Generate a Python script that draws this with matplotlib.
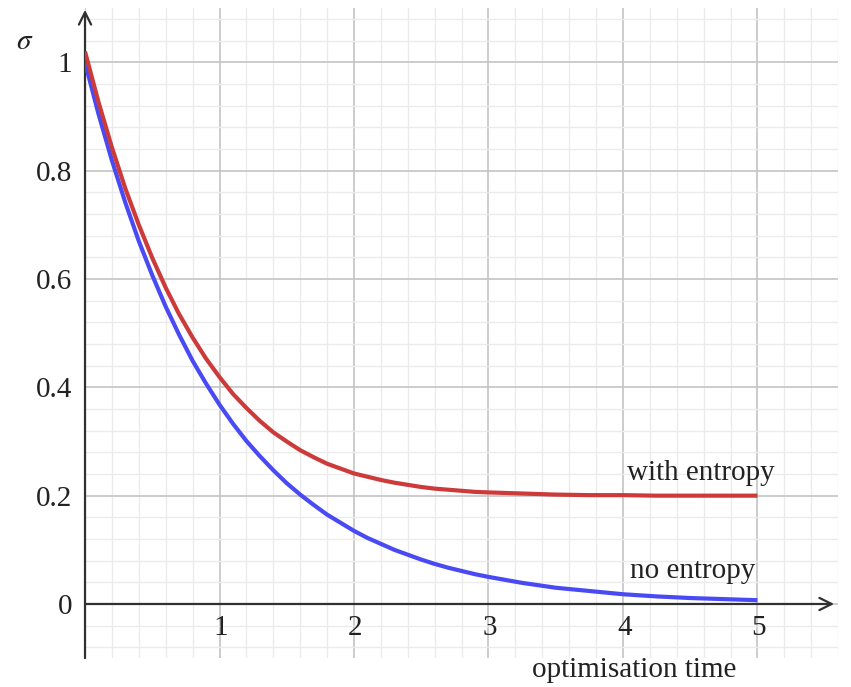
"""
sigma vs optimisation time, with / without entropy term
"""
import matplotlib
matplotlib.use("Agg")
import matplotlib.pyplot as plt
from matplotlib.ticker import MultipleLocator

# values
t = [0.0, 0.1, 0.2, 0.3, 0.4, 0.5, 0.6, 0.7, 0.8, 0.9,
     1.0, 1.1, 1.2, 1.3, 1.4, 1.5, 1.6, 1.7, 1.8, 1.9,
     2.0, 2.1, 2.2, 2.3, 2.4, 2.5, 2.6, 2.7, 2.8, 2.9,
     3.0, 3.25, 3.5, 3.75, 4.0, 4.25, 4.5, 4.75, 5.0]
no_entropy = [1.000, 0.905, 0.819, 0.741, 0.670, 0.607, 0.549, 0.497, 0.449, 0.407,
              0.368, 0.333, 0.301, 0.273, 0.247, 0.223, 0.202, 0.183, 0.165, 0.150,
              0.135, 0.122, 0.111, 0.100, 0.091, 0.082, 0.074, 0.067, 0.061, 0.055,
              0.050, 0.039, 0.030, 0.024, 0.018, 0.014, 0.011, 0.009, 0.007]
with_entropy = [1.020, 0.927, 0.843, 0.767, 0.700, 0.639, 0.584, 0.535, 0.492, 0.453,
                0.419, 0.388, 0.362, 0.338, 0.317, 0.300, 0.284, 0.271, 0.259, 0.250,
                0.241, 0.235, 0.229, 0.224, 0.220, 0.216, 0.213, 0.211, 0.209, 0.207,
                0.206, 0.204, 0.202, 0.201, 0.201, 0.200, 0.200, 0.200, 0.200]

x_ticks = [1, 2, 3, 4, 5]
y_ticks = [0, 0.2, 0.4, 0.6, 0.8, 1]
y_tick_labels = ["0", "0.2", "0.4", "0.6", "0.8", "1"]

RED = "#cc3a3a"
BLUE = "#4a4af5"
AXIS = "#303030"

plt.rcParams.update({
    "font.family": ["Liberation Serif", "DejaVu Serif"],
    "mathtext.fontset": "stix",
    "font.size": 21,
})

fig = plt.figure(figsize=(8.51, 6.87), dpi=100)
ax = fig.add_axes([0.0999, 0.042, 0.885, 0.946])

ax.set_xlim(0, 5.6)
ax.set_ylim(-0.1, 1.1)

# grid
ax.xaxis.set_major_locator(MultipleLocator(1))
ax.xaxis.set_minor_locator(MultipleLocator(0.2))
ax.yaxis.set_major_locator(MultipleLocator(0.2))
ax.yaxis.set_minor_locator(MultipleLocator(0.04))
ax.grid(True, which="major", color="#c4c4c4", lw=1.2)
ax.grid(True, which="minor", color="#ebebeb", lw=1.0)
ax.set_axisbelow(True)

for s in ax.spines.values():
    s.set_visible(False)
ax.tick_params(which="both", length=0)
ax.set_xticklabels([])
ax.set_yticks(y_ticks)
ax.set_yticklabels(y_tick_labels)
ax.tick_params(axis="y", pad=9, labelcolor="#222222")

# axes with arrows
ax.annotate("", xy=(5.57, 0), xytext=(0, 0), annotation_clip=False,
            arrowprops=dict(arrowstyle="->", lw=1.6, color=AXIS,
                            shrinkA=0, shrinkB=0, mutation_scale=22))
ax.annotate("", xy=(0, 1.097), xytext=(0, -0.1), annotation_clip=False,
            arrowprops=dict(arrowstyle="->", lw=1.6, color=AXIS,
                            shrinkA=0, shrinkB=0, mutation_scale=22))

for xt in x_ticks:
    ax.text(xt + 0.01, -0.02, str(xt), ha="center", va="top", color="#222222")

# curves
ax.plot(t, no_entropy, color=BLUE, lw=3.0, solid_capstyle="butt", zorder=3)
ax.plot(t, with_entropy, color=RED, lw=3.0, solid_capstyle="butt", zorder=4)

ax.text(5.13, 0.229, "with entropy", ha="right", va="baseline", color="#222222")
ax.text(4.985, 0.048, "no entropy", ha="right", va="baseline", color="#222222")
ax.text(4.085, -0.135, "optimisation time", ha="center", va="baseline",
        color="#222222", clip_on=False)
ax.text(-0.45, 1.037, r"$\sigma$", ha="center", va="center", color="#222222",
        clip_on=False)

fig.savefig("out.png", dpi=100)
